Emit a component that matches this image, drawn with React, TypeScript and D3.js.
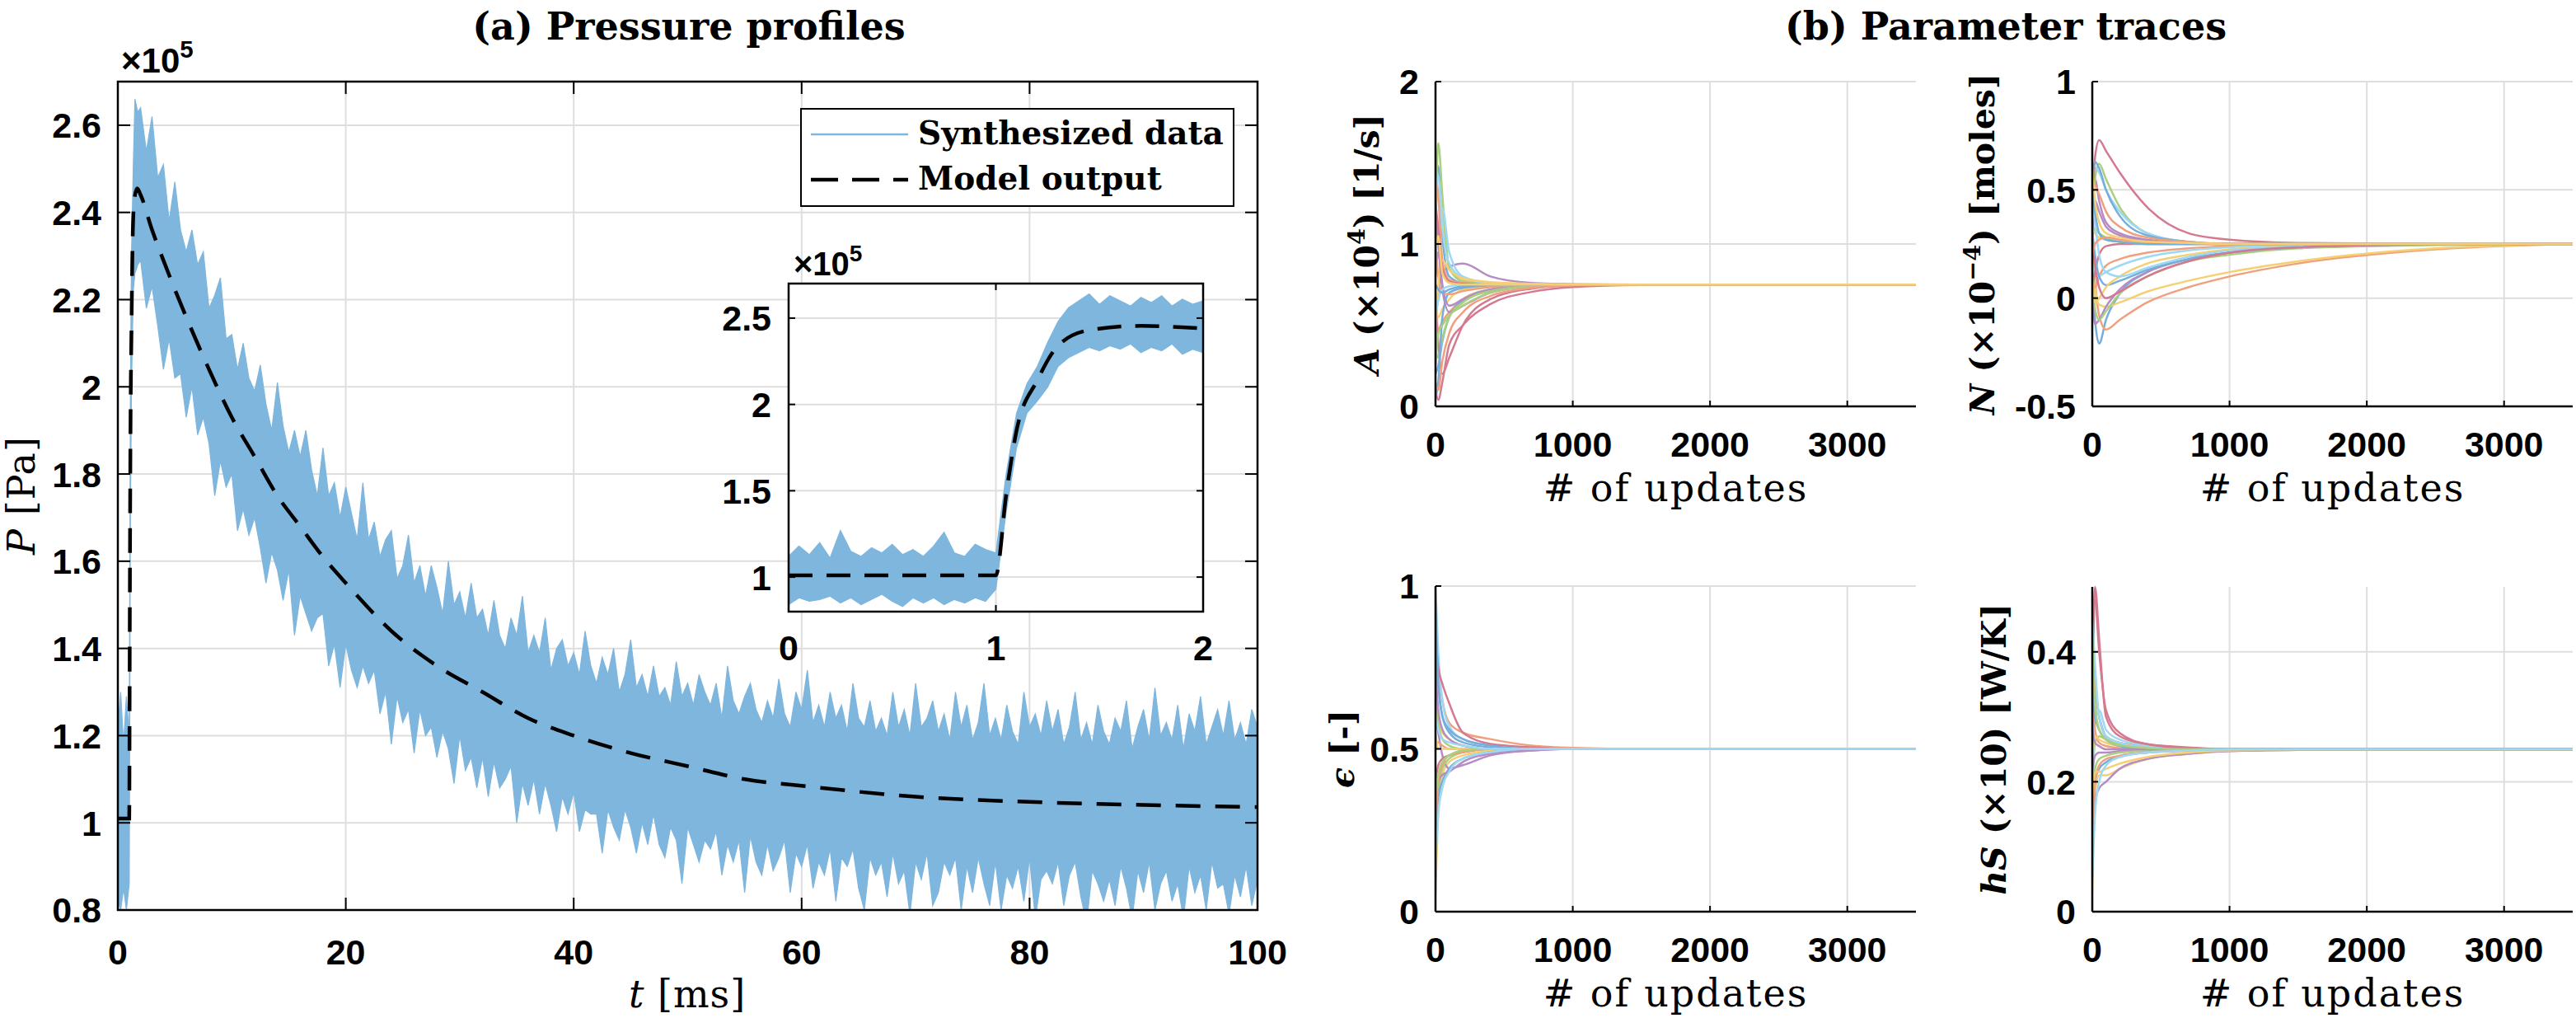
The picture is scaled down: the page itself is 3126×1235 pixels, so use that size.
import React, { useEffect, useRef } from "react";
import * as d3 from "d3";

const W = 3126;
const H = 1235;

// ---------------- Pressure profile data (×1e5 Pa) ----------------
const modelT = [0, 1.0, 1.05, 1.1, 1.2, 1.3, 1.45, 1.7, 2, 3, 4, 6, 8, 10, 12, 14, 16, 18, 20, 24, 28, 32, 36, 40, 45, 50, 55, 60, 70, 80, 90, 100];
const modelP = [1.01, 1.01, 1.48, 1.85, 2.14, 2.34, 2.43, 2.455, 2.44, 2.36, 2.29, 2.16, 2.04, 1.93, 1.84, 1.75, 1.68, 1.61, 1.55, 1.44, 1.36, 1.30, 1.24, 1.20, 1.16, 1.13, 1.10, 1.085, 1.06, 1.048, 1.041, 1.036];

// synthesized data envelope (upper / lower extent of the noisy trace)
const synthT = [0, 0.25, 0.5, 0.75, 1.0, 1.1, 1.2, 1.35, 1.5, 1.75,
  2, 2.5, 3, 3.5, 4, 4.5, 5, 5.5, 6, 6.5,
  7, 7.5, 8, 8.5, 9, 9.5, 10, 10.5, 11, 11.5,
  12, 12.5, 13, 13.5, 14, 14.5, 15, 15.5, 16, 16.5,
  17, 17.5, 18, 18.5, 19, 19.5, 20, 20.5, 21, 21.5,
  22, 22.5, 23, 23.5, 24, 24.5, 25, 25.5, 26, 26.5,
  27, 27.5, 28, 28.5, 29, 29.5, 30, 30.5, 31, 31.5,
  32, 32.5, 33, 33.5, 34, 34.5, 35, 35.5, 36, 36.5,
  37, 37.5, 38, 38.5, 39, 39.5, 40, 40.5, 41, 41.5,
  42, 42.5, 43, 43.5, 44, 44.5, 45, 45.5, 46, 46.5,
  47, 47.5, 48, 48.5, 49, 49.5, 50, 50.5, 51, 51.5,
  52, 52.5, 53, 53.5, 54, 54.5, 55, 55.5, 56, 56.5,
  57, 57.5, 58, 58.5, 59, 59.5, 60, 60.5, 61, 61.5,
  62, 62.5, 63, 63.5, 64, 64.5, 65, 65.5, 66, 66.5,
  67, 67.5, 68, 68.5, 69, 69.5, 70, 70.5, 71, 71.5,
  72, 72.5, 73, 73.5, 74, 74.5, 75, 75.5, 76, 76.5,
  77, 77.5, 78, 78.5, 79, 79.5, 80, 80.5, 81, 81.5,
  82, 82.5, 83, 83.5, 84, 84.5, 85, 85.5, 86, 86.5,
  87, 87.5, 88, 88.5, 89, 89.5, 90, 90.5, 91, 91.5,
  92, 92.5, 93, 93.5, 94, 94.5, 95, 95.5, 96, 96.5,
  97, 97.5, 98, 98.5, 99, 99.5, 100];
const synthHi = [1.22, 1.30, 1.18, 1.29, 1.20, 1.98, 2.30, 2.50, 2.66, 2.63,
  2.64, 2.54, 2.62, 2.48, 2.51, 2.38, 2.47, 2.36, 2.31, 2.36,
  2.28, 2.31, 2.18, 2.21, 2.25, 2.11, 2.12, 2.04, 2.10, 2.02,
  1.99, 2.05, 1.96, 1.90, 2.01, 1.91, 1.85, 1.90, 1.84, 1.90,
  1.81, 1.75, 1.86, 1.75, 1.78, 1.70, 1.77, 1.71, 1.65, 1.78,
  1.65, 1.69, 1.61, 1.65, 1.67, 1.56, 1.59, 1.66, 1.55, 1.59,
  1.52, 1.59, 1.54, 1.48, 1.60, 1.50, 1.53, 1.47, 1.55, 1.47,
  1.49, 1.43, 1.51, 1.43, 1.40, 1.47, 1.43, 1.52, 1.39, 1.43,
  1.39, 1.47, 1.35, 1.40, 1.42, 1.36, 1.39, 1.34, 1.44, 1.36,
  1.32, 1.38, 1.34, 1.40, 1.30, 1.34, 1.42, 1.31, 1.34, 1.29,
  1.36, 1.29, 1.31, 1.27, 1.37, 1.29, 1.32, 1.27, 1.34, 1.30,
  1.27, 1.32, 1.24, 1.36, 1.28, 1.25, 1.29, 1.32, 1.26, 1.23,
  1.28, 1.24, 1.33, 1.25, 1.22, 1.30, 1.26, 1.35, 1.23, 1.27,
  1.22, 1.30, 1.24, 1.27, 1.21, 1.32, 1.24, 1.22, 1.28, 1.21,
  1.24, 1.20, 1.30, 1.22, 1.26, 1.20, 1.32, 1.22, 1.24, 1.28,
  1.21, 1.25, 1.19, 1.30, 1.22, 1.27, 1.19, 1.23, 1.32, 1.20,
  1.24, 1.19, 1.27, 1.21, 1.18, 1.30, 1.22, 1.25, 1.20, 1.28,
  1.21, 1.26, 1.18, 1.22, 1.30, 1.19, 1.23, 1.18, 1.27, 1.21,
  1.18, 1.24, 1.21, 1.28, 1.17, 1.22, 1.26, 1.19, 1.31, 1.20,
  1.23, 1.19, 1.27, 1.17, 1.25, 1.21, 1.29, 1.18, 1.22, 1.26,
  1.20, 1.28, 1.19, 1.23, 1.18, 1.26, 1.22];
const synthLo = [0.82, 0.80, 0.85, 0.80, 0.86, 1.70, 2.00, 2.22, 2.26, 2.28,
  2.29, 2.18, 2.23, 2.14, 2.04, 2.11, 2.02, 2.03, 1.93, 2.00,
  1.89, 1.93, 1.87, 1.75, 1.83, 1.77, 1.80, 1.67, 1.72, 1.66,
  1.70, 1.63, 1.55, 1.62, 1.58, 1.51, 1.58, 1.43, 1.52, 1.48,
  1.44, 1.47, 1.48, 1.36, 1.41, 1.31, 1.41, 1.35, 1.31, 1.36,
  1.32, 1.35, 1.25, 1.30, 1.18, 1.29, 1.23, 1.26, 1.16, 1.26,
  1.20, 1.22, 1.15, 1.21, 1.17, 1.09, 1.20, 1.12, 1.15, 1.08,
  1.15, 1.06, 1.14, 1.08, 1.10, 1.13, 1.00, 1.09, 1.04, 1.10,
  1.02, 1.09, 1.04, 0.98, 1.06, 1.02, 1.07, 0.98, 1.03, 1.02,
  1.02, 0.93, 1.03, 0.99, 0.96, 1.03, 0.99, 0.93, 1.00, 0.95,
  1.02, 0.95, 0.92, 0.99, 0.96, 0.86, 0.99, 0.95, 0.91, 0.96,
  0.94, 0.98, 0.88, 0.95, 0.91, 0.96, 0.84, 0.97, 0.91, 0.88,
  0.95, 0.89, 0.92, 0.96, 0.84, 0.93, 0.90, 0.95, 0.85, 0.91,
  0.88, 0.94, 0.82, 0.92, 0.90, 0.94, 0.85, 0.80, 0.92, 0.88,
  0.91, 0.83, 0.93, 0.86, 0.89, 0.79, 0.91, 0.87, 0.93, 0.81,
  0.84, 0.91, 0.88, 0.92, 0.80, 0.90, 0.84, 0.92, 0.86, 0.81,
  0.91, 0.80, 0.88, 0.85, 0.90, 0.82, 0.92, 0.78, 0.87, 0.89,
  0.86, 0.91, 0.81, 0.88, 0.91, 0.83, 0.77, 0.89, 0.86, 0.82,
  0.87, 0.81, 0.90, 0.85, 0.78, 0.89, 0.84, 0.91, 0.80, 0.86,
  0.89, 0.82, 0.86, 0.78, 0.90, 0.84, 0.88, 0.80, 0.91, 0.85,
  0.86, 0.79, 0.88, 0.83, 0.90, 0.81, 0.87];

// inset (first 2 ms)
const insetT = [0, 0.05, 0.1, 0.15, 0.2, 0.25, 0.3, 0.35, 0.4, 0.45, 0.5, 0.55, 0.6, 0.65, 0.7, 0.75, 0.8, 0.85, 0.9, 0.95,
  1.0, 1.05, 1.1, 1.15, 1.2, 1.25, 1.3, 1.35, 1.4, 1.45, 1.5, 1.55, 1.6, 1.65, 1.7, 1.75, 1.8, 1.85, 1.9, 1.95, 2.0];
const insetHi = [1.12, 1.18, 1.13, 1.20, 1.11, 1.27, 1.15, 1.12, 1.17, 1.14, 1.19, 1.13, 1.16, 1.12, 1.18, 1.26, 1.14, 1.12, 1.19, 1.16,
  1.14, 1.60, 1.95, 2.12, 2.22, 2.36, 2.48, 2.56, 2.60, 2.64, 2.58, 2.63, 2.60, 2.57, 2.62, 2.59, 2.63, 2.57, 2.61, 2.58, 2.60];
const insetLo = [0.84, 0.88, 0.86, 0.87, 0.89, 0.85, 0.88, 0.84, 0.87, 0.90, 0.86, 0.83, 0.88, 0.85, 0.88, 0.84, 0.87, 0.85, 0.88, 0.86,
  0.93, 1.38, 1.75, 1.95, 2.02, 2.10, 2.22, 2.27, 2.30, 2.33, 2.31, 2.34, 2.32, 2.35, 2.30, 2.33, 2.31, 2.35, 2.29, 2.32, 2.30];

const mainXTicks = [0, 20, 40, 60, 80, 100];
const mainYTicks = [0.8, 1, 1.2, 1.4, 1.6, 1.8, 2, 2.2, 2.4, 2.6];
const mainYLabels = ["0.8", "1", "1.2", "1.4", "1.6", "1.8", "2", "2.2", "2.4", "2.6"];
const insetXTicks = [0, 1, 2];
const insetYTicks = [1, 1.5, 2, 2.5];
const insetYLabels = ["1", "1.5", "2", "2.5"];

// ---------------- Parameter traces ----------------
const updates = [0, 20, 50, 100, 200, 400, 700, 1000, 1500, 2500, 3500];
const updTicks = [0, 1000, 2000, 3000];

const traceA = [
  [1.40, 1.48, 1.05, 0.80, 0.76, 0.752, 0.75, 0.75, 0.75, 0.75, 0.75],
  [0.30, 0.45, 0.52, 0.58, 0.66, 0.72, 0.745, 0.75, 0.75, 0.75, 0.75],
  [1.20, 1.32, 1.20, 0.85, 0.78, 0.76, 0.752, 0.75, 0.75, 0.75, 0.75],
  [0.50, 0.70, 0.82, 0.86, 0.88, 0.80, 0.76, 0.752, 0.75, 0.75, 0.75],
  [1.10, 1.62, 1.30, 0.85, 0.77, 0.755, 0.75, 0.75, 0.75, 0.75, 0.75],
  [0.90, 1.10, 1.22, 0.95, 0.80, 0.76, 0.752, 0.75, 0.75, 0.75, 0.75],
  [0.10, 0.04, 0.15, 0.38, 0.50, 0.63, 0.705, 0.735, 0.748, 0.75, 0.75],
  [0.20, 0.25, 0.40, 0.55, 0.65, 0.72, 0.745, 0.75, 0.75, 0.75, 0.75],
  [1.45, 1.30, 0.90, 0.78, 0.76, 0.75, 0.75, 0.75, 0.75, 0.75, 0.75],
  [0.60, 0.55, 0.60, 0.66, 0.72, 0.745, 0.75, 0.75, 0.75, 0.75, 0.75],
  [0.80, 0.95, 0.75, 0.62, 0.66, 0.72, 0.745, 0.75, 0.75, 0.75, 0.75],
  [0.35, 0.30, 0.42, 0.55, 0.64, 0.71, 0.74, 0.748, 0.75, 0.75, 0.75],
  [1.30, 1.42, 1.10, 0.88, 0.79, 0.76, 0.752, 0.75, 0.75, 0.75, 0.75],
  [0.70, 0.40, 0.20, 0.30, 0.50, 0.66, 0.725, 0.745, 0.75, 0.75, 0.75],
  [0.05, 0.15, 0.55, 0.70, 0.73, 0.745, 0.75, 0.75, 0.75, 0.75, 0.75],
  [1.00, 0.80, 0.70, 0.69, 0.71, 0.735, 0.748, 0.75, 0.75, 0.75, 0.75],
  [0.40, 0.75, 0.90, 0.84, 0.79, 0.765, 0.755, 0.75, 0.75, 0.75, 0.75],
  [1.15, 1.00, 0.72, 0.58, 0.62, 0.70, 0.74, 0.75, 0.75, 0.75, 0.75],
  [0.25, 0.45, 0.50, 0.56, 0.62, 0.70, 0.74, 0.748, 0.75, 0.75, 0.75],
  [0.55, 0.65, 0.72, 0.74, 0.75, 0.75, 0.75, 0.75, 0.75, 0.75, 0.75],
  [1.25, 1.10, 0.85, 0.77, 0.755, 0.75, 0.75, 0.75, 0.75, 0.75, 0.75],
  [0.75, 0.72, 0.70, 0.72, 0.74, 0.75, 0.75, 0.75, 0.75, 0.75, 0.75],
  [0.15, 0.10, 0.28, 0.45, 0.58, 0.68, 0.73, 0.745, 0.75, 0.75, 0.75],
  [0.95, 1.05, 0.82, 0.76, 0.75, 0.75, 0.75, 0.75, 0.75, 0.75, 0.75],
];

const traceN = [
  [0.20, -0.10, -0.21, -0.10, 0.02, 0.12, 0.18, 0.21, 0.235, 0.248, 0.25],
  [0.35, 0.10, -0.08, -0.145, -0.10, -0.02, 0.05, 0.10, 0.16, 0.225, 0.25],
  [0.30, 0.05, -0.03, -0.04, -0.02, 0.03, 0.08, 0.12, 0.17, 0.23, 0.25],
  [0.45, 0.55, 0.45, 0.35, 0.30, 0.27, 0.255, 0.25, 0.25, 0.25, 0.25],
  [0.40, 0.55, 0.62, 0.55, 0.42, 0.30, 0.26, 0.25, 0.25, 0.25, 0.25],
  [0.50, 0.60, 0.58, 0.50, 0.40, 0.30, 0.26, 0.252, 0.25, 0.25, 0.25],
  [0.40, 0.65, 0.73, 0.68, 0.58, 0.42, 0.30, 0.27, 0.255, 0.25, 0.25],
  [0.55, 0.63, 0.60, 0.50, 0.38, 0.29, 0.26, 0.25, 0.25, 0.25, 0.25],
  [0.10, 0.05, 0.10, 0.15, 0.18, 0.21, 0.23, 0.24, 0.248, 0.25, 0.25],
  [0.35, 0.30, 0.28, 0.27, 0.26, 0.255, 0.25, 0.25, 0.25, 0.25, 0.25],
  [0.00, -0.12, -0.10, -0.04, 0.04, 0.12, 0.18, 0.21, 0.235, 0.248, 0.25],
  [0.20, -0.05, -0.10, -0.06, 0.02, 0.10, 0.17, 0.20, 0.23, 0.245, 0.25],
  [0.15, 0.08, 0.10, 0.12, 0.15, 0.19, 0.22, 0.235, 0.245, 0.25, 0.25],
  [0.05, 0.12, 0.20, 0.24, 0.25, 0.25, 0.25, 0.25, 0.25, 0.25, 0.25],
  [0.30, 0.20, 0.10, 0.06, 0.08, 0.13, 0.18, 0.21, 0.235, 0.248, 0.25],
  [0.45, 0.52, 0.48, 0.40, 0.33, 0.28, 0.26, 0.25, 0.25, 0.25, 0.25],
  [0.10, -0.02, 0.00, 0.05, 0.10, 0.16, 0.20, 0.225, 0.24, 0.25, 0.25],
  [0.25, 0.45, 0.40, 0.33, 0.29, 0.265, 0.255, 0.25, 0.25, 0.25, 0.25],
  [0.30, 0.32, 0.30, 0.28, 0.26, 0.25, 0.25, 0.25, 0.25, 0.25, 0.25],
  [0.45, 0.35, 0.20, 0.12, 0.10, 0.14, 0.19, 0.22, 0.24, 0.25, 0.25],
  [0.25, 0.15, 0.05, 0.00, 0.03, 0.10, 0.17, 0.21, 0.235, 0.248, 0.25],
  [0.50, 0.40, 0.30, 0.27, 0.26, 0.25, 0.25, 0.25, 0.25, 0.25, 0.25],
  [0.20, 0.25, 0.27, 0.28, 0.27, 0.26, 0.255, 0.25, 0.25, 0.25, 0.25],
  [0.60, 0.45, 0.35, 0.30, 0.28, 0.26, 0.255, 0.25, 0.25, 0.25, 0.25],
];

const traceE = [
  [0.80, 0.70, 0.60, 0.55, 0.52, 0.505, 0.50, 0.50, 0.50, 0.50, 0.50],
  [0.90, 0.75, 0.65, 0.58, 0.55, 0.53, 0.51, 0.503, 0.50, 0.50, 0.50],
  [0.05, 0.30, 0.42, 0.46, 0.48, 0.495, 0.50, 0.50, 0.50, 0.50, 0.50],
  [0.60, 0.55, 0.48, 0.44, 0.45, 0.48, 0.495, 0.50, 0.50, 0.50, 0.50],
  [0.10, 0.35, 0.44, 0.47, 0.49, 0.50, 0.50, 0.50, 0.50, 0.50, 0.50],
  [1.00, 0.80, 0.65, 0.57, 0.53, 0.51, 0.50, 0.50, 0.50, 0.50, 0.50],
  [0.85, 0.75, 0.70, 0.64, 0.55, 0.515, 0.505, 0.50, 0.50, 0.50, 0.50],
  [0.20, 0.35, 0.40, 0.44, 0.47, 0.49, 0.50, 0.50, 0.50, 0.50, 0.50],
  [0.50, 0.52, 0.51, 0.50, 0.50, 0.50, 0.50, 0.50, 0.50, 0.50, 0.50],
  [0.70, 0.60, 0.55, 0.53, 0.51, 0.50, 0.50, 0.50, 0.50, 0.50, 0.50],
  [0.30, 0.40, 0.42, 0.43, 0.46, 0.485, 0.495, 0.50, 0.50, 0.50, 0.50],
  [0.65, 0.58, 0.53, 0.51, 0.50, 0.50, 0.50, 0.50, 0.50, 0.50, 0.50],
  [0.15, 0.30, 0.38, 0.43, 0.47, 0.49, 0.50, 0.50, 0.50, 0.50, 0.50],
  [0.40, 0.45, 0.47, 0.48, 0.49, 0.50, 0.50, 0.50, 0.50, 0.50, 0.50],
  [0.95, 0.70, 0.60, 0.56, 0.53, 0.51, 0.50, 0.50, 0.50, 0.50, 0.50],
  [0.25, 0.40, 0.45, 0.48, 0.49, 0.50, 0.50, 0.50, 0.50, 0.50, 0.50],
  [0.55, 0.50, 0.50, 0.50, 0.50, 0.50, 0.50, 0.50, 0.50, 0.50, 0.50],
  [0.75, 0.62, 0.56, 0.53, 0.51, 0.50, 0.50, 0.50, 0.50, 0.50, 0.50],
  [0.35, 0.42, 0.46, 0.48, 0.495, 0.50, 0.50, 0.50, 0.50, 0.50, 0.50],
  [0.60, 0.56, 0.53, 0.52, 0.51, 0.50, 0.50, 0.50, 0.50, 0.50, 0.50],
];

const traceH = [
  [0.15, 0.33, 0.30, 0.27, 0.26, 0.255, 0.252, 0.25, 0.25, 0.25, 0.25],
  [0.40, 0.35, 0.30, 0.27, 0.26, 0.255, 0.25, 0.25, 0.25, 0.25, 0.25],
  [0.03, 0.18, 0.21, 0.21, 0.22, 0.235, 0.243, 0.247, 0.249, 0.25, 0.25],
  [0.10, 0.17, 0.19, 0.20, 0.22, 0.235, 0.243, 0.247, 0.249, 0.25, 0.25],
  [0.20, 0.26, 0.27, 0.265, 0.258, 0.253, 0.25, 0.25, 0.25, 0.25, 0.25],
  [0.12, 0.30, 0.31, 0.28, 0.265, 0.256, 0.252, 0.25, 0.25, 0.25, 0.25],
  [0.30, 0.50, 0.42, 0.30, 0.27, 0.258, 0.253, 0.25, 0.25, 0.25, 0.25],
  [0.12, 0.20, 0.22, 0.23, 0.24, 0.245, 0.248, 0.25, 0.25, 0.25, 0.25],
  [0.35, 0.28, 0.26, 0.255, 0.252, 0.25, 0.25, 0.25, 0.25, 0.25, 0.25],
  [0.25, 0.27, 0.265, 0.26, 0.255, 0.252, 0.25, 0.25, 0.25, 0.25, 0.25],
  [0.22, 0.24, 0.245, 0.245, 0.247, 0.249, 0.25, 0.25, 0.25, 0.25, 0.25],
  [0.16, 0.22, 0.235, 0.24, 0.245, 0.248, 0.25, 0.25, 0.25, 0.25, 0.25],
  [0.45, 0.38, 0.30, 0.27, 0.26, 0.253, 0.25, 0.25, 0.25, 0.25, 0.25],
  [0.48, 0.48, 0.40, 0.31, 0.275, 0.258, 0.252, 0.25, 0.25, 0.25, 0.25],
  [0.35, 0.30, 0.28, 0.265, 0.255, 0.25, 0.25, 0.25, 0.25, 0.25, 0.25],
  [0.08, 0.20, 0.225, 0.235, 0.24, 0.245, 0.248, 0.249, 0.25, 0.25, 0.25],
  [0.18, 0.215, 0.215, 0.22, 0.228, 0.238, 0.245, 0.248, 0.25, 0.25, 0.25],
  [0.28, 0.26, 0.255, 0.25, 0.25, 0.25, 0.25, 0.25, 0.25, 0.25, 0.25],
  [0.42, 0.32, 0.28, 0.265, 0.256, 0.252, 0.25, 0.25, 0.25, 0.25, 0.25],
  [0.05, 0.15, 0.20, 0.225, 0.238, 0.245, 0.248, 0.25, 0.25, 0.25, 0.25],
];

const traceColors = ["#74AEDC", "#F0A07E", "#F5CF72", "#B68CC4", "#AACF7E", "#9ED8F2", "#D47A90"];

const BLUE = "#7EB6DE";
const GRID = "#DEDEDE";
const SANS = "'Liberation Sans', Arial, Helvetica, sans-serif";
const SERIF = "'DejaVu Serif', 'Liberation Serif', serif";
const TICK_FS = 43;

type Part = { t: string; i?: boolean; sup?: boolean };

function richText(parent: any, x: number, y: number, parts: Part[], o: { size: number; weight?: string; rotate?: number; anchor?: string; family?: string; spacing?: number }) {
  const t = parent.append("text")
    .attr("transform", `translate(${x},${y}) rotate(${o.rotate || 0})`)
    .attr("text-anchor", o.anchor || "middle")
    .attr("font-family", o.family || SERIF)
    .attr("font-size", o.size)
    .attr("font-weight", o.weight || "normal")
    .attr("letter-spacing", o.spacing || 0)
    .attr("fill", "#000");
  let raised = false;
  parts.forEach((p) => {
    const ts = t.append("tspan").text(p.t);
    if (p.i) ts.attr("font-style", "italic");
    if (p.sup && !raised) { ts.attr("dy", -o.size * 0.42).attr("font-size", o.size * 0.7); raised = true; }
    else if (p.sup) ts.attr("font-size", o.size * 0.7);
    else if (!p.sup && raised) { ts.attr("dy", o.size * 0.42); raised = false; }
  });
  return t;
}

function tickText(parent: any, x: number, y: number, s: string, anchor: string, size = TICK_FS) {
  parent.append("text").attr("x", x).attr("y", y).attr("text-anchor", anchor)
    .attr("font-family", SANS).attr("font-weight", "bold").attr("font-size", size).attr("fill", "#000").text(s);
}

export default function App() {
  const ref = useRef<SVGSVGElement>(null);
  useEffect(() => {
    const svg = d3.select(ref.current as SVGSVGElement);
    svg.selectAll("*").remove();
    svg.append("rect").attr("width", W).attr("height", H).attr("fill", "#fff");
    const defs = svg.append("defs");

    // ================= MAIN PLOT =================
    const mx0 = 143, mx1 = 1526, my0 = 99, my1 = 1104;
    const xM = d3.scaleLinear().domain([0, 100]).range([mx0, mx1]);
    const yM = d3.scaleLinear().domain([0.8, 2.7]).range([my1, my0]);
    const gM = svg.append("g");
    defs.append("clipPath").attr("id", "clipMain").append("rect")
      .attr("x", mx0).attr("y", my0).attr("width", mx1 - mx0).attr("height", my1 - my0);

    mainXTicks.forEach((t) => gM.append("line").attr("x1", xM(t)).attr("x2", xM(t)).attr("y1", my0).attr("y2", my1).attr("stroke", GRID).attr("stroke-width", 2));
    mainYTicks.forEach((v) => gM.append("line").attr("x1", mx0).attr("x2", mx1).attr("y1", yM(v)).attr("y2", yM(v)).attr("stroke", GRID).attr("stroke-width", 2));

    const n = Math.min(synthT.length, synthHi.length, synthLo.length);
    const idx = d3.range(n);
    const band = d3.area<number>().x((i) => xM(synthT[i])).y0((i) => yM(synthLo[i])).y1((i) => yM(synthHi[i]));
    gM.append("path").attr("d", band(idx) as string).attr("fill", BLUE).attr("stroke", BLUE).attr("stroke-width", 1.2).attr("stroke-linejoin", "miter").attr("clip-path", "url(#clipMain)");

    const mIdx = d3.range(modelT.length);
    const mLine = d3.line<number>().x((i) => xM(modelT[i])).y((i) => yM(modelP[i])).curve(d3.curveMonotoneX);
    gM.append("path").attr("d", mLine(mIdx) as string).attr("fill", "none").attr("stroke", "#000").attr("stroke-width", 4.5).attr("stroke-dasharray", "30 18").attr("clip-path", "url(#clipMain)");

    gM.append("rect").attr("x", mx0).attr("y", my0).attr("width", mx1 - mx0).attr("height", my1 - my0).attr("fill", "none").attr("stroke", "#000").attr("stroke-width", 2.5);
    const TL = 15;
    mainXTicks.forEach((t) => {
      gM.append("line").attr("x1", xM(t)).attr("x2", xM(t)).attr("y1", my1).attr("y2", my1 - TL).attr("stroke", "#000").attr("stroke-width", 2);
      gM.append("line").attr("x1", xM(t)).attr("x2", xM(t)).attr("y1", my0).attr("y2", my0 + TL).attr("stroke", "#000").attr("stroke-width", 2);
      tickText(gM, xM(t), 1170, String(t), "middle");
    });
    mainYTicks.forEach((v, i) => {
      gM.append("line").attr("x1", mx0).attr("x2", mx0 + TL).attr("y1", yM(v)).attr("y2", yM(v)).attr("stroke", "#000").attr("stroke-width", 2);
      gM.append("line").attr("x1", mx1).attr("x2", mx1 - TL).attr("y1", yM(v)).attr("y2", yM(v)).attr("stroke", "#000").attr("stroke-width", 2);
      tickText(gM, 123, yM(v) + TICK_FS * 0.36, mainYLabels[i], "end");
    });
    richText(gM, mx0 + 4, 88, [{ t: "×10" }, { t: "5", sup: true }], { size: 42, anchor: "start", family: SANS, weight: "bold" });
    richText(gM, 836, 48, [{ t: "(a) Pressure profiles" }], { size: 46, weight: "bold" });
    richText(gM, 834, 1222, [{ t: "t", i: true }, { t: " [ms]" }], { size: 46, spacing: 1 });
    richText(gM, 42, 601, [{ t: "P", i: true }, { t: " [Pa]" }], { size: 46, rotate: -90, spacing: 1 });

    // legend
    const lg = gM.append("g");
    lg.append("rect").attr("x", 972).attr("y", 132).attr("width", 525).attr("height", 118).attr("fill", "#fff").attr("stroke", "#000").attr("stroke-width", 2);
    lg.append("line").attr("x1", 984).attr("x2", 1102).attr("y1", 163).attr("y2", 163).attr("stroke", BLUE).attr("stroke-width", 2.5);
    lg.append("line").attr("x1", 984).attr("x2", 1102).attr("y1", 218).attr("y2", 218).attr("stroke", "#000").attr("stroke-width", 4.5).attr("stroke-dasharray", "33 17");
    richText(lg, 1114, 175, [{ t: "Synthesized data" }], { size: 39, weight: "bold", anchor: "start" });
    richText(lg, 1114, 230, [{ t: "Model output" }], { size: 39, weight: "bold", anchor: "start" });

    // ================= INSET =================
    const ix0 = 957, ix1 = 1460, iy0 = 344, iy1 = 742;
    const xI = d3.scaleLinear().domain([0, 2]).range([ix0, ix1]);
    const yI = d3.scaleLinear().domain([0.8, 2.7]).range([iy1, iy0]);
    const gI = svg.append("g");
    defs.append("clipPath").attr("id", "clipInset").append("rect")
      .attr("x", ix0).attr("y", iy0).attr("width", ix1 - ix0).attr("height", iy1 - iy0);
    gI.append("rect").attr("x", ix0).attr("y", iy0).attr("width", ix1 - ix0).attr("height", iy1 - iy0).attr("fill", "#fff");
    insetXTicks.forEach((t) => gI.append("line").attr("x1", xI(t)).attr("x2", xI(t)).attr("y1", iy0).attr("y2", iy1).attr("stroke", GRID).attr("stroke-width", 2));
    insetYTicks.forEach((v) => gI.append("line").attr("x1", ix0).attr("x2", ix1).attr("y1", yI(v)).attr("y2", yI(v)).attr("stroke", GRID).attr("stroke-width", 2));
    const iIdx = d3.range(insetT.length);
    const iband = d3.area<number>().x((i) => xI(insetT[i])).y0((i) => yI(insetLo[i])).y1((i) => yI(insetHi[i]));
    gI.append("path").attr("d", iband(iIdx) as string).attr("fill", BLUE).attr("stroke", BLUE).attr("stroke-width", 1.2).attr("clip-path", "url(#clipInset)");
    const iLine = d3.line<number>().x((i) => xI(modelT[i])).y((i) => yI(modelP[i])).curve(d3.curveMonotoneX);
    gI.append("path").attr("d", iLine(mIdx) as string).attr("fill", "none").attr("stroke", "#000").attr("stroke-width", 4.5).attr("stroke-dasharray", "29 17").attr("clip-path", "url(#clipInset)");
    gI.append("rect").attr("x", ix0).attr("y", iy0).attr("width", ix1 - ix0).attr("height", iy1 - iy0).attr("fill", "none").attr("stroke", "#000").attr("stroke-width", 2.5);
    const ITL = 8;
    insetXTicks.forEach((t) => {
      gI.append("line").attr("x1", xI(t)).attr("x2", xI(t)).attr("y1", iy1).attr("y2", iy1 - ITL).attr("stroke", "#000").attr("stroke-width", 2);
      gI.append("line").attr("x1", xI(t)).attr("x2", xI(t)).attr("y1", iy0).attr("y2", iy0 + ITL).attr("stroke", "#000").attr("stroke-width", 2);
      tickText(gI, xI(t), 801, String(t), "middle");
    });
    insetYTicks.forEach((v, i) => {
      gI.append("line").attr("x1", ix0).attr("x2", ix0 + ITL).attr("y1", yI(v)).attr("y2", yI(v)).attr("stroke", "#000").attr("stroke-width", 2);
      gI.append("line").attr("x1", ix1).attr("x2", ix1 - ITL).attr("y1", yI(v)).attr("y2", yI(v)).attr("stroke", "#000").attr("stroke-width", 2);
      tickText(gI, 936, yI(v) + TICK_FS * 0.36, insetYLabels[i], "end");
    });
    richText(gI, 963, 334, [{ t: "×10" }, { t: "5", sup: true }], { size: 40, anchor: "start", family: SANS, weight: "bold" });

    // ================= PARAMETER TRACES =================
    richText(svg, 2434, 48, [{ t: "(b) Parameter traces" }], { size: 46, weight: "bold" });

    const panels = [
      { id: "A", x0: 1742, x1: 2325, yT: 99, yB: 493, dom: [0, 2], ticks: [0, 1, 2], labels: ["0", "1", "2"], data: traceA,
        lx: 1659, label: [{ t: "A", i: true }, { t: " (×10" }, { t: "4", sup: true }, { t: ") [1/s]" }] as Part[], xlb: 554, ulb: 608 },
      { id: "N", x0: 2539, x1: 3122, yT: 99, yB: 493, dom: [-0.5, 1], ticks: [-0.5, 0, 0.5, 1], labels: ["-0.5", "0", "0.5", "1"], data: traceN,
        lx: 2406, label: [{ t: "N", i: true }, { t: " (×10" }, { t: "−4", sup: true }, { t: ") [moles]" }] as Part[], xlb: 554, ulb: 608 },
      { id: "E", x0: 1742, x1: 2325, yT: 711, yB: 1106, dom: [0, 1], ticks: [0, 0.5, 1], labels: ["0", "0.5", "1"], data: traceE,
        lx: 1629, label: [{ t: "ϵ", i: true }, { t: " [-]" }] as Part[], xlb: 1167, ulb: 1221 },
      { id: "H", x0: 2539, x1: 3122, yT: 712, yB: 1106, dom: [0, 0.5], ticks: [0, 0.2, 0.4], labels: ["0", "0.2", "0.4"], data: traceH,
        lx: 2420, label: [{ t: "hS", i: true }, { t: " (×10) [W/K]" }] as Part[], xlb: 1167, ulb: 1221 },
    ];

    panels.forEach((p) => {
      const g = svg.append("g");
      const x = d3.scaleLinear().domain([0, 3500]).range([p.x0, p.x1]);
      const y = d3.scaleLinear().domain(p.dom).range([p.yB, p.yT]);
      defs.append("clipPath").attr("id", "clip" + p.id).append("rect")
        .attr("x", p.x0).attr("y", p.yT - 2).attr("width", p.x1 - p.x0).attr("height", p.yB - p.yT + 2);
      updTicks.filter((t) => t > 0).forEach((t) => g.append("line").attr("x1", x(t)).attr("x2", x(t)).attr("y1", p.yT).attr("y2", p.yB).attr("stroke", GRID).attr("stroke-width", 2));
      p.ticks.filter((v) => v > p.dom[0]).forEach((v) => g.append("line").attr("x1", p.x0).attr("x2", p.x1).attr("y1", y(v)).attr("y2", y(v)).attr("stroke", GRID).attr("stroke-width", 2));
      const ln = d3.line<number>().x((_, i) => x(updates[i])).y((v) => y(v)).curve(d3.curveMonotoneX);
      p.data.forEach((tr, k) => {
        g.append("path").attr("d", ln(tr) as string).attr("fill", "none").attr("stroke", traceColors[k % traceColors.length])
          .attr("stroke-width", 2.5).attr("clip-path", `url(#clip${p.id})`);
      });
      g.append("line").attr("x1", p.x0).attr("x2", p.x0).attr("y1", p.yT).attr("y2", p.yB).attr("stroke", "#000").attr("stroke-width", 2.5);
      g.append("line").attr("x1", p.x0).attr("x2", p.x1).attr("y1", p.yB).attr("y2", p.yB).attr("stroke", "#000").attr("stroke-width", 2.5);
      updTicks.forEach((t) => {
        g.append("line").attr("x1", x(t)).attr("x2", x(t)).attr("y1", p.yB).attr("y2", p.yB - 7).attr("stroke", "#000").attr("stroke-width", 2);
        tickText(g, x(t), p.xlb, String(t), "middle");
      });
      p.ticks.forEach((v, i) => {
        g.append("line").attr("x1", p.x0).attr("x2", p.x0 + 7).attr("y1", y(v)).attr("y2", y(v)).attr("stroke", "#000").attr("stroke-width", 2);
        tickText(g, p.x0 - 20, y(v) + TICK_FS * 0.36, p.labels[i], "end");
      });
      richText(g, (p.x0 + p.x1) / 2, p.ulb, [{ t: "# of updates" }], { size: 46, spacing: 2 });
      richText(g, p.lx + 14, (p.yT + p.yB) / 2, p.label, { size: 41, weight: "bold", rotate: -90 });
    });
  }, []);
  return (
    <svg ref={ref} width={W} height={H} style={{ position: "fixed", left: 0, top: 0, display: "block", background: "#fff" }} />
  );
}
